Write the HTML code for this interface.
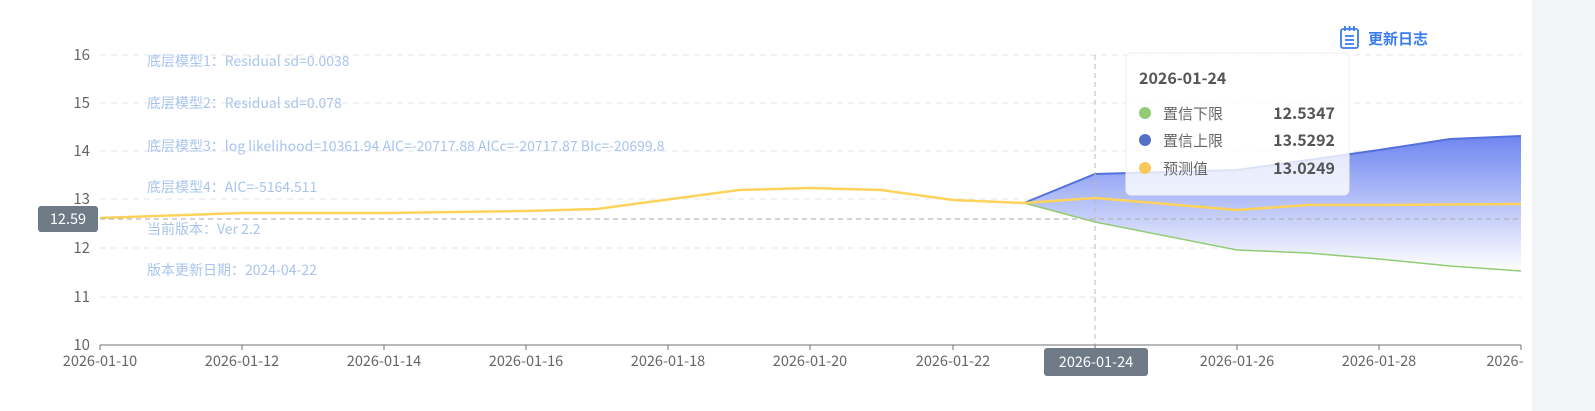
<!DOCTYPE html>
<html><head><meta charset="utf-8"><style>
body{margin:0;width:1595px;height:411px;background:#fff;overflow:hidden;font-family:"Noto Sans CJK SC","Liberation Sans",sans-serif;}
</style></head><body>
<svg width="1595" height="411" xmlns="http://www.w3.org/2000/svg" style="position:absolute;left:0;top:0;font-family:'Noto Sans CJK SC','Liberation Sans',sans-serif">
<defs><linearGradient id="g" x1="0" y1="0" x2="0" y2="1"><stop offset="0" stop-color="#6f86f0"/><stop offset="1" stop-color="#ffffff"/></linearGradient></defs>
<rect x="1532" y="0" width="63" height="411" fill="#f4f5f7"/>
<g stroke="#e3e6ee" stroke-dasharray="6,5" stroke-width="1">
<line x1="100" x2="1521" y1="55" y2="55"/><line x1="100" x2="1521" y1="103" y2="103"/><line x1="100" x2="1521" y1="151" y2="151"/><line x1="100" x2="1521" y1="199" y2="199"/><line x1="100" x2="1521" y1="248" y2="248"/><line x1="100" x2="1521" y1="297" y2="297"/>
</g>
<g fill="#666" font-size="15" text-anchor="end">
<text x="90" y="60">16</text><text x="90" y="108">15</text><text x="90" y="156">14</text><text x="90" y="204">13</text><text x="90" y="253">12</text><text x="90" y="302">11</text><text x="90" y="350">10</text>
</g>
<g fill="#a8c4ee" font-size="14">
<text x="147" y="66">底层模型1：Residual sd=0.0038</text>
<text x="147" y="108">底层模型2：Residual sd=0.078</text>
<text x="147" y="151">底层模型3：log likelihood=10361.94 AIC=-20717.88 AICc=-20717.87 BIc=-20699.8</text>
<text x="147" y="192">底层模型4：AIC=-5164.511</text>
<text x="147" y="234">当前版本：Ver 2.2</text>
<text x="147" y="275">版本更新日期：2024-04-22</text>
</g>
<path d="M1024,203 L1095,174 L1237,170 L1308,160 L1379,150 L1450,139 L1521,136 L1521,271 L1450,266 L1379,259 L1308,253 L1237,250 L1095,222 Z" fill="url(#g)"/>
<polyline points="1024,203 1095,174 1237,170 1308,160 1379,150 1450,139 1521,136" fill="none" stroke="#5470dc" stroke-width="2"/>
<polyline points="1024,203 1095,222 1237,250 1308,253 1379,259 1450,266 1521,271" fill="none" stroke="#91cc75" stroke-width="1.5"/>
<polyline points="100,218 242,213 384,213 526,211 597,209 739,190 810,188 881,190 953,200 1024,203 1095,198 1237,210 1308,205 1379,205 1521,204" fill="none" stroke="#fdd35c" stroke-width="2.5"/>
<line x1="100" x2="1521" y1="219" y2="219" stroke="#aaa" stroke-dasharray="5,4"/>
<line x1="1095" x2="1095" y1="55" y2="345" stroke="#bbb" stroke-dasharray="5,4"/>
<line x1="100" x2="1521" y1="345" y2="345" stroke="#6e7079" stroke-width="1"/>
<g stroke="#6e7079"><line x1="100" x2="100" y1="345" y2="350"/><line x1="242" x2="242" y1="345" y2="350"/><line x1="384" x2="384" y1="345" y2="350"/><line x1="526" x2="526" y1="345" y2="350"/><line x1="668" x2="668" y1="345" y2="350"/><line x1="810" x2="810" y1="345" y2="350"/><line x1="953" x2="953" y1="345" y2="350"/><line x1="1095" x2="1095" y1="345" y2="350"/><line x1="1237" x2="1237" y1="345" y2="350"/><line x1="1379" x2="1379" y1="345" y2="350"/><line x1="1521" x2="1521" y1="345" y2="350"/></g>
<g fill="#666" font-size="14.5" text-anchor="middle">
<text x="100" y="366">2026-01-10</text><text x="242" y="366">2026-01-12</text><text x="384" y="366">2026-01-14</text><text x="526" y="366">2026-01-16</text><text x="668" y="366">2026-01-18</text><text x="810" y="366">2026-01-20</text><text x="953" y="366">2026-01-22</text><text x="1237" y="366">2026-01-26</text><text x="1379" y="366">2026-01-28</text><text x="1505" y="366">2026-</text>
</g>
<rect x="1044" y="348" width="104" height="28" rx="3" fill="#6e7b87"/>
<text x="1096" y="367" fill="#fff" font-size="14.5" text-anchor="middle">2026-01-24</text>
<rect x="38" y="206" width="60" height="26" rx="3" fill="#6e7b87"/>
<text x="68" y="224" fill="#fff" font-size="14.5" text-anchor="middle">12.59</text>
<rect x="1126" y="53" width="223" height="142" rx="5" fill="rgba(255,255,255,0.8)" stroke="#eee"/>
<text x="1139" y="84" fill="#555" font-size="16" font-weight="bold">2026-01-24</text>
<circle cx="1145" cy="113" r="6" fill="#91cc75"/><circle cx="1145" cy="140" r="6" fill="#5470c6"/><circle cx="1145" cy="168" r="6" fill="#fac858"/>
<g fill="#666" font-size="15"><text x="1163" y="119">置信下限</text><text x="1163" y="146">置信上限</text><text x="1163" y="174">预测值</text></g>
<g fill="#555" font-size="16" font-weight="bold" text-anchor="end"><text x="1335" y="119">12.5347</text><text x="1335" y="146">13.5292</text><text x="1335" y="174">13.0249</text></g>
<g stroke="#3a7cf0" stroke-width="1.8" fill="none"><rect x="1341" y="29" width="17" height="19" rx="2"/><line x1="1345" y1="26" x2="1345" y2="31"/><line x1="1349.5" y1="26" x2="1349.5" y2="31"/><line x1="1354" y1="26" x2="1354" y2="31"/><line x1="1345" y1="36" x2="1354" y2="36"/><line x1="1345" y1="40" x2="1354" y2="40"/><line x1="1345" y1="44" x2="1354" y2="44"/></g>
<text x="1368" y="44" fill="#3a7cf0" font-size="15" font-weight="bold">更新日志</text>
</svg>
</body></html>
